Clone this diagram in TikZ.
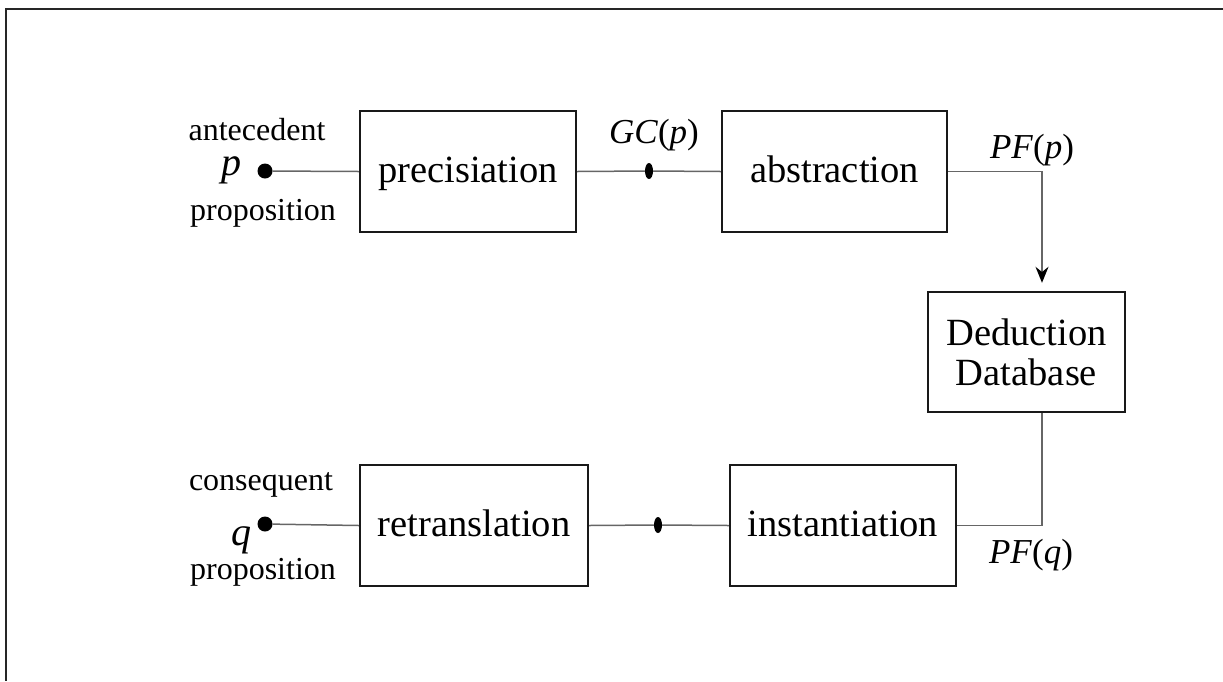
\documentclass[tikz,border=0pt]{standalone}
\usepackage{fontspec}
\setmainfont{Liberation Serif}
\usetikzlibrary{arrows.meta,calc,shapes.geometric}
\tikzset{
  blk/.style={draw=black!90, line width=2.4pt, minimum height=121pt, inner sep=0pt,
     font=\fontsize{38.5}{39}\selectfont},
  onerow/.style={text height=28pt, text depth=7pt},
  conn/.style={draw=black!60, line width=1.5pt},
  lbl/.style={anchor=base, inner sep=0pt, font=\fontsize{32}{34}\selectfont},
  var/.style={anchor=base, inner sep=0pt, font=\fontsize{40}{42}\selectfont\itshape},
  mlbl/.style={anchor=base, inner sep=0pt, font=\fontsize{35}{37}\selectfont},
  bigdot/.style={circle, fill=black, draw=none, minimum size=15pt, inner sep=0pt},
  smalldot/.style={ellipse, fill=black, draw=none, minimum width=8pt, minimum height=16pt, inner sep=0pt},
  frame/.style={draw=black!85, line width=2.2pt}
}
\begin{document}
\begin{tikzpicture}[x=1pt,y=-1pt]
\useasboundingbox (0,0) rectangle (1223,681);
% frame
\coordinate (f1) at (1223,9);
\coordinate (f0) at (6,9);
\coordinate (f2) at (6,681);
\draw[frame] (f1) -- (f0) -- (f2);

% boxes
\node[blk, onerow, minimum width=216pt] (prec) at (468,171.5) {precisiation};
\node[blk, onerow, minimum width=225pt] (abs) at (834.5,171.5) {abstraction};
\node[blk, minimum width=197pt, minimum height=120pt, align=center] (ded) at (1026.5,352) {Deduction\\[1pt]Database};
\node[blk, onerow, minimum width=226pt] (inst) at (843,525.5) {instantiation};
\node[blk, onerow, minimum width=228pt] (ret) at (474,525.5) {retranslation};

% dots
\node[bigdot] (pdot) at (265,171) {};
\node[bigdot] (qdot) at (265,524) {};
\node[smalldot] (gdot) at (649,171) {};
\node[smalldot] (rdot) at (658,525) {};

% labels
\node[lbl] (ante) at (257,140) {antecedent};
\node[var] (pv) at (231,175) {p};
\node[lbl] (prop1) at (263,220) {proposition};
\node[lbl] (cons) at (261,490) {consequent};
\node[var] (qv) at (241,545) {q};
\node[lbl] (prop2) at (263,579) {proposition};
\node[mlbl] (gc) at (654,143) {\textit{GC}(\textit{p})};
\node[mlbl] (pfp) at (1032,158) {\textit{PF}(\textit{p})};
\node[mlbl] (pfq) at (1031,563) {\textit{PF}(\textit{q})};

% connectors
\coordinate (dtop) at ($(ded.north)+(15.5,0)$);
\coordinate (dbot) at ($(ded.south)+(15.5,0)$);
\draw[conn] (pdot) -- (prec.west);
\draw[conn] (prec.east) -- (gdot) -- (abs.west);
\draw[conn, -{Stealth[length=16pt,width=13pt,color=black]}, shorten >=8pt] (abs.east) -| (dtop);
\draw[conn] (dbot) |- (inst.east);
\draw[conn] (inst.west) -- (rdot) -- (ret.east);
\draw[conn] (qdot) -- (ret.west);
\end{tikzpicture}
\end{document}
